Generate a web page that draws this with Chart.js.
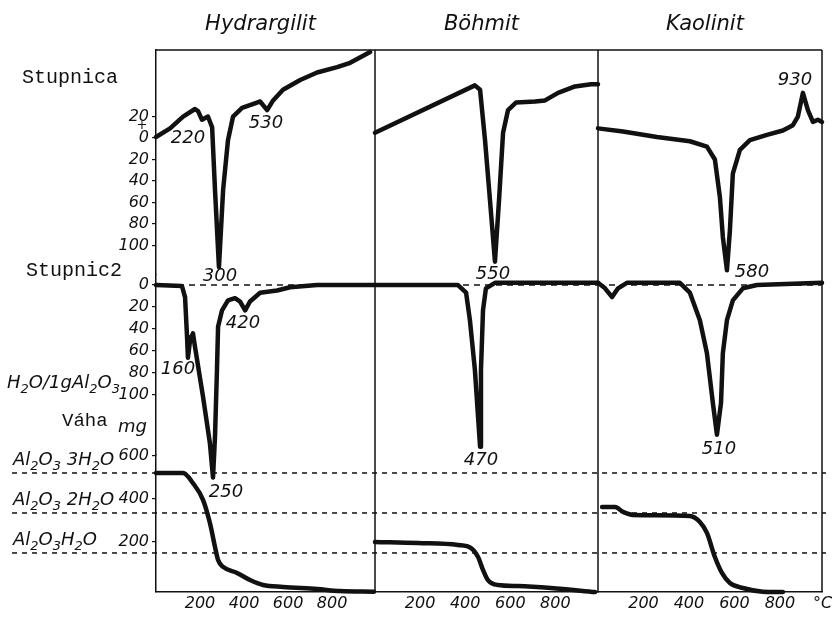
<!doctype html>
<html lang="sk">
<head>
<meta charset="utf-8">
<title>Hydrargilit, Böhmit, Kaolinit</title>
<script src="https://cdn.jsdelivr.net/npm/chart.js"></script>
<style>
  html, body { margin: 0; padding: 0; background: #fff; }
  #wrap { width: 835px; height: 617px; }
</style>
</head>
<body>
<div id="wrap"><canvas id="chart" width="835" height="617"></canvas></div>
<script>
// panels and axis ticks
const panels = ['Hydrargilit', 'Böhmit', 'Kaolinit'];
const xMax = [995, 989, 985];
const xTicks = [200, 400, 600, 800];
const dtaTicks = [20, 0, -20, -40, -60, -80, -100];
const dtgTicks = [0, 20, 40, 60, 80, 100];
const tgTicks = [600, 400, 200];

// Hydrargilit
const hydDtaT = [0, 64, 123, 177, 191, 209, 236, 255, 268, 286, 305, 327, 350, 391, 459, 473, 505, 532, 577, 655, 732, 823, 882, 973];
const hydDtaV = [1, 9, 20, 27, 25, 17, 20, 10, -48, -120, -48, -2, 20, 28, 33, 34, 26, 35, 45, 54, 61, 66, 70, 80];
const hydDtgT = [0, 118, 132, 141, 145, 155, 168, 177, 214, 245, 259, 268, 277, 282, 300, 327, 359, 382, 405, 427, 473, 550, 609, 732, 990];
const hydDtgV = [0, 1, 11, 47, 66, 50, 44, 56, 102, 144, 175, 138, 77, 38, 23, 14, 12, 15, 23, 15, 7, 5, 2, 0, 0];
const hydTgT = [0, 123, 168, 214, 245, 268, 282, 305, 368, 427, 486, 577, 732, 836, 990];
const hydTgV = [521, 521, 474, 395, 288, 177, 116, 84, 56, 23, 0, -9, -19, -28, -31];

// Böhmit
const bohDtaT = [0, 443, 466, 488, 510, 532, 550, 568, 590, 625, 710, 754, 812, 887, 958, 989];
const bohDtaV = [5, 49, 45, -2, -58, -115, -58, 5, 26, 33, 34, 35, 42, 48, 50, 50];
const bohDtgT = [0, 368, 404, 421, 443, 466, 470, 479, 492, 532, 989];
const bohDtgV = [0, 0, 7, 32, 77, 147, 77, 23, 3, -2, -2];
const bohTgT = [0, 191, 368, 426, 457, 479, 501, 545, 634, 780, 976];
const bohTgV = [200, 195, 186, 172, 130, 70, 23, 0, -5, -14, -33];

// Kaolinit
const kaoDtaT = [0, 110, 259, 404, 479, 514, 536, 549, 567, 580, 593, 624, 668, 743, 813, 857, 879, 901, 923, 945, 967, 985];
const kaoDtaV = [9, 6, 1, -3, -8, -20, -55, -92, -123, -86, -33, -11, -2, 3, 7, 12, 20, 42, 26, 15, 17, 15];
const kaoDtgT = [0, 31, 62, 88, 127, 360, 404, 448, 479, 505, 523, 541, 549, 567, 593, 637, 699, 985];
const kaoDtgV = [-2, 3, 11, 3, -2, -2, 7, 32, 62, 107, 136, 107, 62, 32, 14, 3, 0, -2];
const kaoTgT = [18, 75, 110, 154, 404, 448, 479, 514, 545, 580, 637, 725, 813];
const kaoTgV = [363, 363, 340, 326, 321, 293, 242, 130, 56, 9, -14, -31, -33];

// weight levels of the hydrates (mg)
const tgLevels = [521, 335, 149];
const tgLevelNames = ['Al_2O_3 3H_2O', 'Al_2O_3 2H_2O', 'Al_2O_3H_2O'];

// peak temperatures written beside the curves
const peakText = ['220', '300', '530', '160', '420', '250', '550', '470', '580', '510', '930'];
const peakPanel = [0, 0, 0, 0, 0, 0, 1, 1, 2, 2, 2];
const peakAxis = ['dta', 'dta', 'dta', 'dtg', 'dtg', 'dtg', 'dta', 'dtg', 'dta', 'dtg', 'dta'];
const peakT = [145, 291, 500, 100, 395, 318, 523, 470, 677, 532, 866];
const peakV = [0, -129, 14, 77, 35, 188, -127, 159, -125, 149, 54];

const curves = [
  [0, 'dta', hydDtaT, hydDtaV], [0, 'dtg', hydDtgT, hydDtgV], [0, 'tg', hydTgT, hydTgV],
  [1, 'dta', bohDtaT, bohDtaV], [1, 'dtg', bohDtgT, bohDtgV], [1, 'tg', bohTgT, bohTgV],
  [2, 'dta', kaoDtaT, kaoDtaV], [2, 'dtg', kaoDtgT, kaoDtgV], [2, 'tg', kaoTgT, kaoTgV]
];

const ink = '#111';
const sans = '"DejaVu Sans", sans-serif';
const mono = '"Liberation Mono", monospace';

const datasets = curves.map(([p, axis, t, v]) => ({
  data: t.map((x, i) => ({ x: x, y: v[i] })),
  xAxisID: 'x' + p,
  yAxisID: axis,
  borderColor: ink,
  borderWidth: 4.5,
  pointRadius: 0,
  fill: false,
  clip: false,
  tension: 0,
  cubicInterpolationMode: axis === 'tg' ? 'monotone' : 'default',
  borderJoinStyle: 'round',
  borderCapStyle: 'round'
}));

// dashed zero line of the DTG curves
panels.forEach((name, p) => {
  datasets.push({
    data: [{ x: 0, y: 0 }, { x: xMax[p], y: 0 }],
    xAxisID: 'x' + p,
    yAxisID: 'dtg',
    borderColor: ink,
    borderWidth: 1.5,
    borderDash: [6, 5],
    pointRadius: 0,
    fill: false,
    clip: false
  });
});

function fixedTicks(list) {
  return axis => { axis.ticks = list.map(v => ({ value: v })); };
}

const panelWidths = [219, 223, 224];
const scales = {};
panels.forEach((name, p) => {
  scales['x' + p] = {
    type: 'linear',
    position: 'bottom',
    stack: 'temp',
    stackWeight: panelWidths[p],
    min: 0,
    max: xMax[p],
    afterBuildTicks: fixedTicks(xTicks),
    afterFit: axis => { axis.height = 22; },
    grid: { display: false, drawTicks: false },
    border: { display: true, color: ink, width: 1.5 },
    ticks: { color: ink, font: { family: sans, size: 16, style: 'italic' }, padding: 2, autoSkip: false, maxRotation: 0 }
  };
});

const yCommon = {
  type: 'linear',
  position: 'left',
  stack: 'signal',
  afterFit: axis => { axis.width = 45; },
  grid: { drawOnChartArea: false, drawTicks: true, tickLength: 4, color: ink, lineWidth: 1.2 },
  border: { display: true, color: ink, width: 1.5 },
  ticks: { color: ink, font: { family: sans, size: 16, style: 'italic' }, padding: 3, autoSkip: false }
};

scales.dta = Object.assign({}, yCommon, {
  weight: 3, stackWeight: 225, min: -127.4, max: 81.9,
  afterBuildTicks: fixedTicks(dtaTicks),
  ticks: Object.assign({}, yCommon.ticks, { callback: v => String(Math.abs(v)) })
});
scales.dtg = Object.assign({}, yCommon, {
  weight: 2, stackWeight: 180, min: -9.1, max: 154.5, reverse: true,
  afterBuildTicks: fixedTicks(dtgTicks)
});
scales.tg = Object.assign({}, yCommon, {
  weight: 1, stackWeight: 137, min: -32.6, max: 604.7,
  afterBuildTicks: fixedTicks(tgTicks)
});

// formula text: "_" marks the next character as a subscript
function chem(ctx, str, x, y, size) {
  let cx = x;
  for (let i = 0; i < str.length; i++) {
    let ch = str[i];
    let sub = false;
    if (ch === '_') { sub = true; ch = str[++i]; }
    ctx.font = 'italic ' + (sub ? Math.round(size * 0.72) : size) + 'px ' + sans;
    ctx.fillText(ch, cx, sub ? y + size * 0.3 : y);
    cx += ctx.measureText(ch).width;
  }
  return cx;
}

const decor = {
  id: 'decor',
  beforeDatasetsDraw(chart) {
    const { ctx, scales: s } = chart;
    ctx.save();
    ctx.strokeStyle = ink;
    ctx.lineWidth = 1.5;
    ctx.setLineDash([5, 5]);
    tgLevels.forEach(lv => {
      const y = s.tg.getPixelForValue(lv);
      ctx.beginPath();
      ctx.moveTo(12, y);
      ctx.lineTo(s.x2.right + 4, y);
      ctx.stroke();
    });
    ctx.restore();
  },
  afterDraw(chart) {
    const { ctx, scales: s, chartArea: a } = chart;
    ctx.save();
    ctx.strokeStyle = ink;
    ctx.fillStyle = ink;
    ctx.lineWidth = 1.5;
    // frame: top and the panel edges
    ctx.beginPath();
    ctx.moveTo(a.left, a.top);
    ctx.lineTo(a.right, a.top);
    panels.forEach((name, p) => {
      const x = s['x' + p].right;
      ctx.moveTo(x, a.top);
      ctx.lineTo(x, a.bottom);
    });
    ctx.stroke();

    // panel titles
    ctx.textAlign = 'center';
    ctx.textBaseline = 'middle';
    ctx.font = 'italic 21px ' + sans;
    panels.forEach((name, p) => {
      const sc = s['x' + p];
      ctx.fillText(name, (sc.left + sc.right) / 2 - 5, 25);
    });

    // peak temperatures
    ctx.font = 'italic 18px ' + sans;
    peakText.forEach((txt, i) => {
      const x = s['x' + peakPanel[i]].getPixelForValue(peakT[i]);
      const y = s[peakAxis[i]].getPixelForValue(peakV[i]);
      ctx.fillText(txt, x, y);
    });

    // "+" sign between 20 and 0
    ctx.font = '13px ' + sans;
    ctx.fillText('+', 142, s.dta.getPixelForValue(12));

    // degree sign after the last axis
    ctx.textAlign = 'left';
    ctx.font = 'italic 16px ' + sans;
    ctx.fillText('°C', 813, 604);

    // left captions
    ctx.font = '20px ' + mono;
    ctx.fillText('Stupnica', 22, 78);
    ctx.fillText('Stupnic2', 26, 271);
    ctx.textBaseline = 'alphabetic';
    ctx.font = '19px ' + mono;
    ctx.fillText('Váha', 62, 426);
    ctx.font = 'italic 18px ' + sans;
    ctx.fillText('mg', 118, 432);
    chem(ctx, 'H_2O/1gAl_2O_3', 7, 388, 18);
    tgLevelNames.forEach((nm, i) => {
      chem(ctx, nm, 13, s.tg.getPixelForValue(tgLevels[i]) - 8, 18);
    });
    ctx.restore();
  }
};

new Chart(document.getElementById('chart'), {
  type: 'line',
  data: { datasets: datasets },
  options: {
    responsive: false,
    devicePixelRatio: 1,
    animation: false,
    events: [],
    layout: { padding: { left: 111, right: 13, top: 50, bottom: 3 } },
    plugins: { legend: { display: false }, tooltip: { enabled: false } },
    scales: scales
  },
  plugins: [decor]
});
</script>
</body>
</html>
